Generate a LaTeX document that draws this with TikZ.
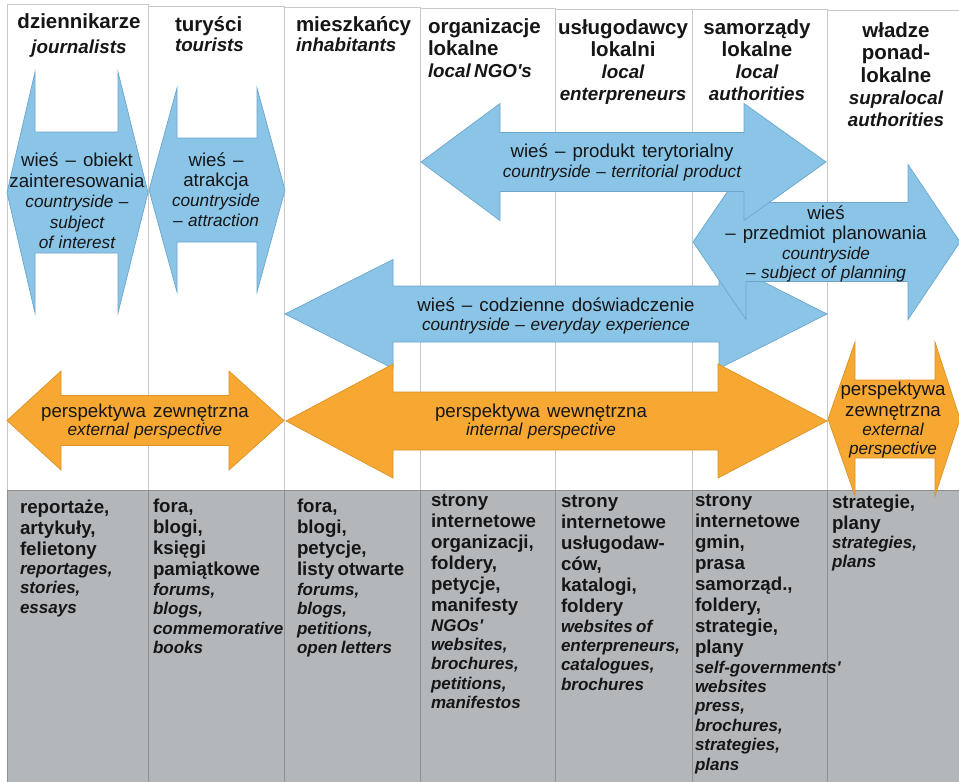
\documentclass[tikz,border=0pt]{standalone}
\usepackage{fontspec}
\setmainfont{Liberation Sans}[Ligatures=TeXOff]
\setlength{\parindent}{0pt}

\definecolor{skyfill}{RGB}{138,196,230}
\definecolor{skyline}{RGB}{108,166,206}
\definecolor{ambfill}{RGB}{247,168,50}
\definecolor{ambline}{RGB}{222,146,40}
\definecolor{bandgray}{RGB}{179,183,186}
\definecolor{bandrule}{RGB}{140,144,147}
\definecolor{colrule}{RGB}{198,200,202}
\definecolor{ink}{RGB}{22,22,22}

% fonts for the three kinds of text
\newcommand{\hdbf}{\bfseries\fontsize{20.5}{22}\selectfont}
\newcommand{\hdit}{\bfseries\itshape\fontsize{18.8}{22}\selectfont}
\newcommand{\arrrm}{\fontsize{18.7}{20}\selectfont\spaceskip=0.38em\relax}
\newcommand{\arrit}{\itshape\fontsize{17.2}{19.5}\selectfont\spaceskip=0.32em\relax}
\newcommand{\lstbf}{\bfseries\fontsize{18.7}{21}\selectfont}
\newcommand{\lstit}{\bfseries\itshape\fontsize{17}{19.4}\selectfont}

% block double arrow: style, left tip x, left head base x, right head base x,
% right tip x, axis y, half shaft height, half head height
\newcommand{\blockarrow}[8]{%
  \filldraw[#1] (#2,#6) -- (#3,#6-#8) -- (#3,#6-#7) -- (#4,#6-#7) -- (#4,#6-#8)
    -- (#5,#6) -- (#4,#6+#8) -- (#4,#6+#7) -- (#3,#6+#7) -- (#3,#6+#8) -- cycle;}

\begin{document}
\begin{tikzpicture}[x=1pt, y=-1pt, line join=miter,
  colbox/.style={draw=colrule, fill=white, line width=0.8pt},
  band/.style={draw=bandrule, fill=bandgray, line width=0.8pt},
  bandsep/.style={draw=bandrule, line width=0.8pt},
  skyarrow/.style={fill=skyfill, draw=skyline, line width=0.7pt},
  amberarrow/.style={fill=ambfill, draw=ambline, line width=0.7pt},
  txt/.style={inner sep=0pt, outer sep=0pt, text=ink},
  headc/.style={txt, anchor=north, align=center, text width=140pt},
  headl/.style={txt, anchor=north west, align=left, text width=135pt},
  arrtxt/.style={txt, anchor=north, align=center, text width=#1},
  lst/.style={txt, anchor=north west, align=left, text width=190pt}]

\useasboundingbox (0,0) rectangle (959,782);
\fill[white] (0,0) rectangle (959,782);

% actor columns
\foreach \xa/\xb/\yt in {7/148/4.5, 148/284/6, 284/420/7, 420/555/8,
                         555/692/9, 692/827/9.5, 827/966/10}
  \draw[colbox] (\xa,\yt) rectangle (\xb,490);

% media band
\draw[band] (7,490) rectangle (966,790);
\foreach \xx in {148,284,420,555,692,827}
  \draw[bandsep] (\xx,490) -- (\xx,782);

% images of the countryside
\blockarrow{skyarrow}{7}{35}{118}{148}{192.5}{60.5}{120.5}
\blockarrow{skyarrow}{149}{177}{257}{285}{190}{52}{102}
\blockarrow{skyarrow}{285}{393}{719}{827}{314}{28}{54.5}
\blockarrow{skyarrow}{693}{746}{908}{960}{242}{39.5}{77.5}
\blockarrow{skyarrow}{421}{500}{744}{826}{162}{29.5}{58.5}

% perspectives
\blockarrow{amberarrow}{7}{61}{229}{284}{420.5}{25}{49.5}
\blockarrow{amberarrow}{286}{393}{718}{827}{421}{29}{57}
\blockarrow{amberarrow}{828}{855}{935}{960}{419}{39}{77}

% column headings
\node[headc] (h1) at (79,13.3) {{\hdbf dziennikarze\par}{\hdit\baselineskip=25pt journalists\par}};
\node[headl] (h2) at (175,16.5) {{\hdbf turyści\par}{\hdit\baselineskip=20pt tourists\par}};
\node[headl] (h3) at (296,16.5) {{\hdbf mieszkańcy\par}{\hdit\baselineskip=20pt inhabitants\par}};
\node[headl] (h4) at (428,18.3) {{\hdbf organizacje\\lokalne\par}{\hdit local NGO's\par}};
\node[headc] (h5) at (623,19.3) {{\hdbf usługodawcy\\lokalni\par}{\hdit local\\enterpreneurs\par}};
\node[headc] (h6) at (757,19.3) {{\hdbf samorządy\\lokalne\par}{\hdit local\\authorities\par}};
\node[headc] (h7) at (896,22.3) {{\hdbf\baselineskip=22.5pt władze\\ponad-\\lokalne\par}{\hdit\baselineskip=22pt supralocal\\authorities\par}};

% arrow labels
\node[arrtxt=150pt] (a1) at (77,153.2) {{\arrrm\baselineskip=20.5pt wieś – obiekt\\zainteresowania\par}{\arrit\baselineskip=20.5pt countryside –\\subject\\of interest\par}};
\node[arrtxt=120pt] (a2) at (216,153.2) {{\arrrm wieś –\\atrakcja\par}{\arrit\baselineskip=20pt countryside\\– attraction\par}};
\node[arrtxt=260pt] (a3) at (622,144.2) {{\arrrm wieś – produkt terytorialny\par}{\arrit countryside – territorial product\par}};
\node[arrtxt=230pt] (a4) at (826,206.2) {{\arrrm wieś\\– przedmiot planowania\par}{\arrit countryside\\– subject of planning\par}};
\node[arrtxt=300pt] (a5) at (556,298.2) {{\arrrm wieś – codzienne doświadczenie\par}{\arrit\baselineskip=18.5pt countryside – everyday experience\par}};
\node[arrtxt=240pt] (a6) at (145,403.6) {{\arrrm perspektywa zewnętrzna\par}{\arrit\baselineskip=18pt external perspective\par}};
\node[arrtxt=260pt] (a7) at (541,403.6) {{\arrrm perspektywa wewnętrzna\par}{\arrit\baselineskip=18pt internal perspective\par}};
\node[arrtxt=130pt] (a8) at (893,381.6) {{\arrrm\baselineskip=21pt perspektywa\\zewnętrzna\par}{\arrit\baselineskip=19pt external\\perspective\par}};

% media used by each actor
\node[lst] (m1) at (20,499.5) {{\lstbf reportaże,\\artykuły,\\felietony\par}{\lstit reportages,\\stories,\\essays\par}};
\node[lst] (m2) at (153,499.4) {{\lstbf fora,\\blogi,\\księgi\\pamiątkowe\par}{\lstit forums,\\blogs,\\commemorative\\books\par}};
\node[lst] (m3) at (297,499.4) {{\lstbf fora,\\blogi,\\petycje,\\listy otwarte\par}{\lstit forums,\\blogs,\\petitions,\\open letters\par}};
\node[lst] (m4) at (431,494.5) {{\lstbf strony\\internetowe\\organizacji,\\foldery,\\petycje,\\manifesty\par}{\lstit NGOs'\\websites,\\brochures,\\petitions,\\manifestos\par}};
\node[lst] (m5) at (561,495.5) {{\lstbf strony\\internetowe\\usługodaw-\\ców,\\katalogi,\\foldery\par}{\lstit websites of\\enterpreneurs,\\catalogues,\\brochures\par}};
\node[lst] (m6) at (695,494.5) {{\lstbf strony\\internetowe\\gmin,\\prasa\\samorząd.,\\foldery,\\strategie,\\plany\par}{\lstit self-governments'\\websites\\press,\\brochures,\\strategies,\\plans\par}};
\node[lst] (m7) at (832,494.5) {{\lstbf strategie,\\plany\par}{\lstit strategies,\\plans\par}};
\end{tikzpicture}
\end{document}
